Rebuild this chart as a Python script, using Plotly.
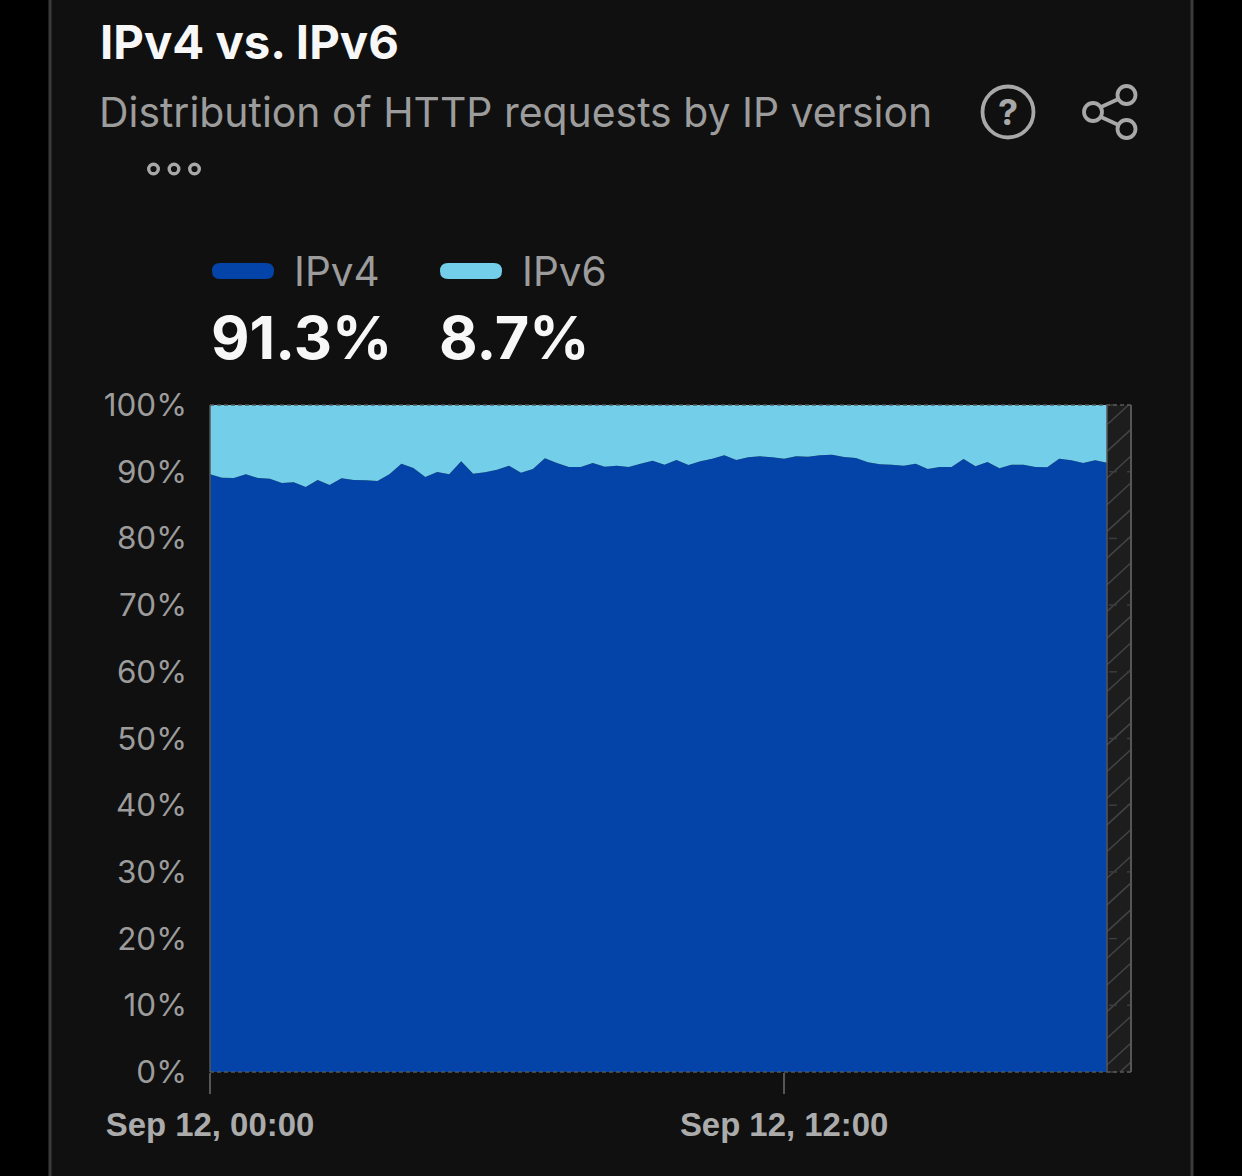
#!/usr/bin/python
# -*- coding: utf-8 -*-

import plotly.graph_objects as go

W = 1242
H = 1176

times = ["2023-09-12 %02d:%02d" % (i // 4, i % 4 * 15) for i in range(76)]

ipv4 = [89.6, 89.1, 89.06, 89.6, 89.05, 88.96, 88.3, 88.4, 87.7, 88.75,
        88.0, 89.0, 88.75, 88.7, 88.6, 89.6, 91.2, 90.55, 89.2, 89.95,
        89.6, 91.55, 89.7, 89.9, 90.3, 90.9, 89.85, 90.4, 92.0, 91.3,
        90.7, 90.7, 91.3, 90.75, 90.9, 90.7, 91.2, 91.65, 91.05, 91.75,
        91.0, 91.55, 91.95, 92.45, 91.75, 92.15, 92.3, 92.15, 91.95, 92.3,
        92.25, 92.45, 92.55, 92.2, 92.05, 91.4, 91.1, 91.05, 90.9, 91.2,
        90.4, 90.7, 90.7, 91.9, 90.8, 91.45, 90.5, 91.05, 91.05, 90.7,
        90.65, 91.95, 91.7, 91.3, 91.7, 91.35]
ipv6 = [10.4, 10.9, 10.94, 10.4, 10.95, 11.04, 11.7, 11.6, 12.3, 11.25,
        12.0, 11.0, 11.25, 11.3, 11.4, 10.4, 8.8, 9.45, 10.8, 10.05,
        10.4, 8.45, 10.3, 10.1, 9.7, 9.1, 10.15, 9.6, 8.0, 8.7,
        9.3, 9.3, 8.7, 9.25, 9.1, 9.3, 8.8, 8.35, 8.95, 8.25,
        9.0, 8.45, 8.05, 7.55, 8.25, 7.85, 7.7, 7.85, 8.05, 7.7,
        7.75, 7.55, 7.45, 7.8, 7.95, 8.6, 8.9, 8.95, 9.1, 8.8,
        9.6, 9.3, 9.3, 8.1, 9.2, 8.55, 9.5, 8.95, 8.95, 9.3,
        9.35, 8.05, 8.3, 8.7, 8.3, 8.65]

y_ticks = [0, 10, 20, 30, 40, 50, 60, 70, 80, 90, 100]
y_labels = ["0%", "10%", "20%", "30%", "40%", "50%", "60%", "70%", "80%", "90%", "100%"]
x_ticks = ["2023-09-12 00:00", "2023-09-12 12:00"]
x_labels = ["Sep 12, 00:00", "Sep 12, 12:00"]

FONT = "Inter"
BLUE = "#0443A8"
CYAN = "#73CEE9"
GREY = "#9C9C9C"
ICON = "#A8A8A8"
EDGE = "#565656"


# everything outside the plot is placed in page pixels
def px(x):
    return x / W


def py(y):
    return 1 - y / H


def text(x, y, s, size, color, bold=False, anchor="left"):
    return dict(x=px(x), y=py(y), xref="paper", yref="paper", text=s, showarrow=False,
                xanchor=anchor, yanchor="middle", borderpad=0,
                font=dict(family=FONT, size=size, color=color, weight=700 if bold else 400))


def line(x0, y0, x1, y1, color, width, dash="solid"):
    return dict(type="line", xref="paper", yref="paper", x0=px(x0), y0=py(y0), x1=px(x1), y1=py(y1),
                line=dict(color=color, width=width, dash=dash), layer="above")


def ring(x, y, r, width):
    return dict(type="circle", xref="paper", yref="paper", x0=px(x - r), y0=py(y - r), x1=px(x + r), y1=py(y + r),
                line=dict(color=ICON, width=width), layer="above")


def pill(x0, x1, y, r, color):
    p = "M %f %f L %f %f Q %f %f %f %f Q %f %f %f %f L %f %f Q %f %f %f %f Q %f %f %f %f Z" % (
        px(x0 + r), py(y - r), px(x1 - r), py(y - r),
        px(x1), py(y - r), px(x1), py(y), px(x1), py(y + r), px(x1 - r), py(y + r),
        px(x0 + r), py(y + r),
        px(x0), py(y + r), px(x0), py(y), px(x0), py(y - r), px(x0 + r), py(y - r))
    return dict(type="path", xref="paper", yref="paper", path=p, fillcolor=color, line=dict(width=0), layer="above")


fig = go.Figure()
fig.add_trace(go.Scatter(x=times, y=ipv4, mode="none", stackgroup="one", fillcolor=BLUE, name="IPv4"))
fig.add_trace(go.Scatter(x=times, y=ipv6, mode="none", stackgroup="one", fillcolor=CYAN, name="IPv6"))

shapes = [
    # card
    dict(type="rect", xref="paper", yref="paper", x0=px(50), x1=px(1192), y0=py(-5), y1=py(H + 5),
         fillcolor="#101010", line=dict(color="#3A3A3A", width=3), layer="below"),
    # part of the axis with no data yet
    dict(type="rect", xref="paper", yref="paper", x0=px(1107), x1=px(1131), y0=py(405), y1=py(1072),
         fillcolor="#1D1D1D", line=dict(width=0), layer="below"),
]
for k in range(25):
    y_start = 1065 - k * 26.68
    if y_start - 22 < 405:
        shapes.append(line(1107, y_start, 1107 + (y_start - 405) * 24 / 22, 405, "#444444", 1.5))
    else:
        shapes.append(line(1107, y_start, 1131, y_start - 22, "#444444", 1.5))
shapes.append(line(1120, 1072, 1131, 1062, "#444444", 1.5))
for pct in y_ticks:
    y_px = 1072 - pct * 6.67
    shapes.append(line(1109, y_px, 1117, y_px, "#3C3C3C", 1.5))
    shapes.append(line(1127, y_px, 1131, y_px, "#3C3C3C", 1.5))

# plot frame
shapes += [
    line(210, 405, 1131, 405, EDGE, 1.5, "4px,3px"),
    line(210, 1072, 1131, 1072, EDGE, 1.5, "4px,3px"),
    line(210, 405, 210, 1072, EDGE, 1.5),
    line(1107, 405, 1107, 1072, EDGE, 1.5),
    line(1131, 405, 1131, 1072, EDGE, 2),
]

# more / help / share icons
shapes += [ring(153.5, 169, 4.8, 3.4), ring(174, 169, 4.8, 3.4), ring(194.5, 169, 4.8, 3.4)]
shapes.append(ring(1008, 112, 25.5, 3.8))
shapes += [ring(1093, 112, 9, 3.8), ring(1126.5, 95, 9, 3.8), ring(1126.5, 129, 9, 3.8)]
shapes += [line(1101, 107, 1118.5, 99, ICON, 3.8), line(1101, 117, 1118.5, 125, ICON, 3.8)]

# legend keys
shapes += [pill(212, 274, 271, 8, BLUE), pill(440, 502, 271, 8, CYAN)]

annotations = [
    text(99, 42, "IPv4 vs. IPv6", 47.3, "#F7F7F7", bold=True),
    text(98, 112, "Distribution of HTTP requests by IP version", 40.9, GREY),
    text(1008, 112, "?", 36, ICON, bold=True, anchor="center"),
    text(293, 271, "IPv4", 40.5, GREY),
    text(521, 271, "IPv6", 40.5, GREY),
    text(210, 337, "91.3%", 59.4, "#F7F7F7", bold=True),
    text(438, 337, "8.7%", 59.4, "#F7F7F7", bold=True),
]

fig.update_layout(
    width=W,
    height=H,
    margin=dict(l=0, r=0, t=0, b=0, autoexpand=False),
    paper_bgcolor="#000000",
    plot_bgcolor="rgba(0,0,0,0)",
    showlegend=False,
    shapes=shapes,
    annotations=annotations,
    xaxis=dict(domain=[px(210), px(1131)], range=["2023-09-12 00:00", "2023-09-12 19:15"],
               tickmode="array", tickvals=x_ticks, ticktext=x_labels,
               ticks="outside", ticklen=21, tickwidth=2, tickcolor=EDGE,
               ticklabelstandoff=3, showgrid=False, zeroline=False, automargin=False,
               tickfont=dict(family="Liberation Sans", size=32.9, color="#ABABAB", weight=700)),
    yaxis=dict(domain=[py(1072), py(405)], range=[0, 100],
               tickmode="array", tickvals=y_ticks, ticktext=y_labels,
               ticks="", ticklabelstandoff=22, showgrid=False, zeroline=False, automargin=False,
               tickfont=dict(family=FONT, size=31.4, color=GREY)),
)

fig.write_html("out.html", config=dict(displayModeBar=False),
               post_script="document.body.style.margin='0';")
